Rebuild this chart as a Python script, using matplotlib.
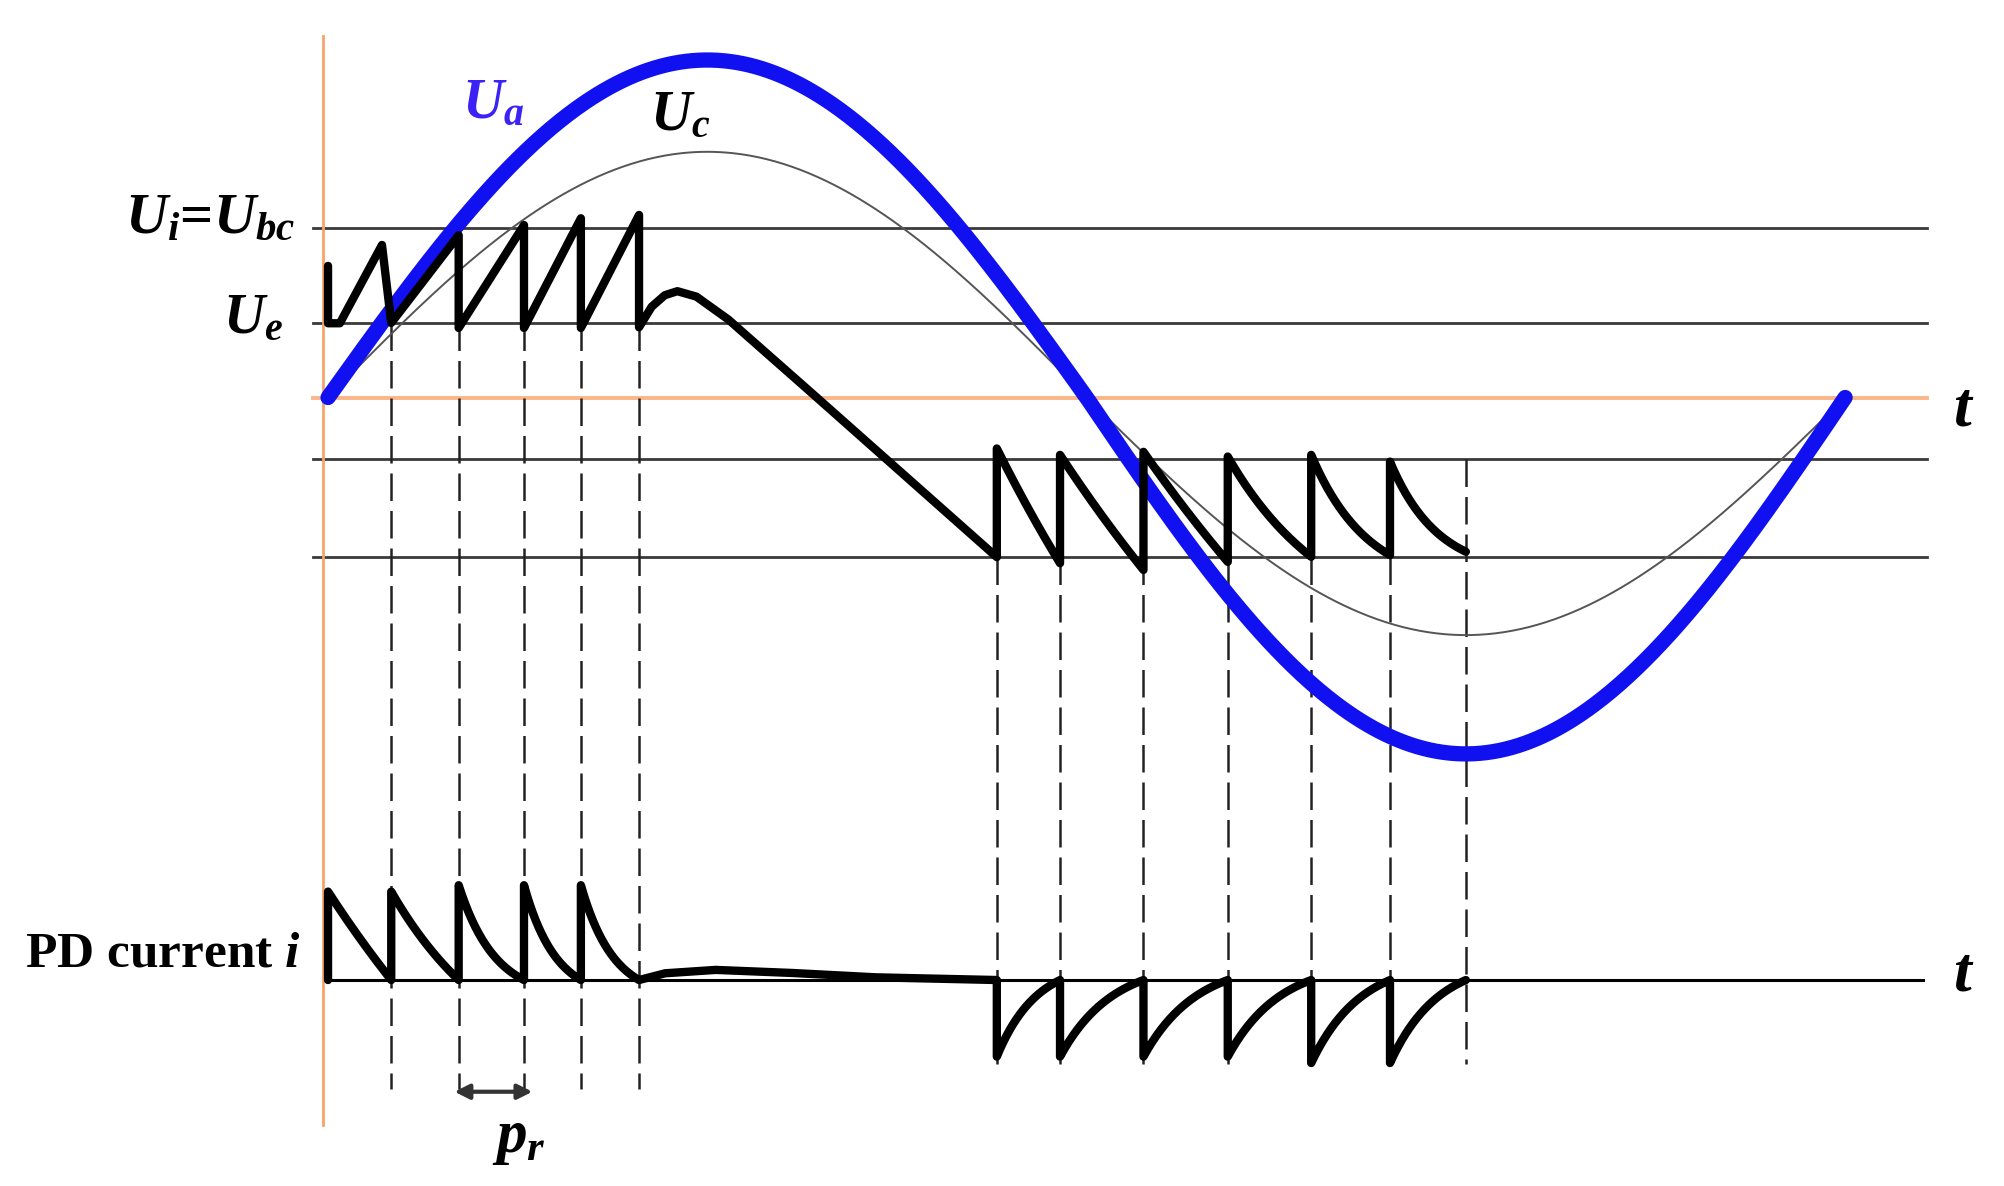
import numpy as np
import matplotlib
matplotlib.use("Agg")
import matplotlib.pyplot as plt

# phase angle in degrees, voltages relative to the positive peak of U_a
ua_amp = [1.0, 1.056]        # U_a, positive / negative half-wave
uc_amp = [0.728, 0.704]      # U_c
level_ui = 0.503             # U_i = U_bc
level_ue = 0.220             # U_e
level_neg = [-0.182, -0.473]

# cavity voltage, positive half and the slow decay after it
ue_pos_t = [0, 0, 2.8, 12.8, 15.0, 31.0, 31.0, 46.5, 46.5, 60.0, 60.0, 73.8, 73.8,
            76.8, 79.9, 82.9, 87.4, 95.0, 113.9, 134.4, 158.7]
ue_pos_v = [0.390, 0.220, 0.220, 0.452, 0.221, 0.481, 0.206, 0.511, 0.206, 0.531, 0.206, 0.541, 0.208,
            0.269, 0.303, 0.315, 0.299, 0.231, 0.023, -0.204, -0.473]

# cavity voltage, negative half (jump up, then ramp down)
neg_times = [158.7, 173.7, 193.5, 213.5, 233.3, 252.0]
neg_end = 270.0
neg_top = [-0.151, -0.170, -0.161, -0.175, -0.170, -0.190]
neg_bottom = [-0.491, -0.511, -0.487, -0.472, -0.467, -0.457]
neg_bend = [0.2, 0.2, 0.2, 0.8, 1.4, 1.6]

# PD current trace
pd_base = -1.726
pos_pulse_t = [0, 15.0, 31.0, 46.5, 60.0]
pos_pulse_end = 73.8
pos_pulse_h = [0.262, 0.262, 0.281, 0.281, 0.281]
pos_pulse_bend = [0.2, 0.6, 1.8, 1.8, 1.8]
hump_t = [73.8, 80, 92, 110, 130, 158.7]
hump_v = [0.0, 0.02, 0.03, 0.021, 0.008, 0.0]
neg_pulse_depth = [0.227, 0.227, 0.227, 0.227, 0.246, 0.246]
neg_pulse_bend = [1.6, 1.6, 1.6, 1.6, 1.6, 1.6]

pos_dash_t = [15.0, 31.0, 46.5, 60.0, 73.8]

plt.rcParams["font.family"] = ["Liberation Serif", "DejaVu Serif"]
plt.rcParams["font.weight"] = "bold"
plt.rcParams["mathtext.fontset"] = "custom"
plt.rcParams["mathtext.rm"] = "Liberation Serif:bold"
plt.rcParams["mathtext.it"] = "Liberation Serif:italic:bold"
plt.rcParams["mathtext.bf"] = "Liberation Serif:bold"


def bend(s, k):
    return s if k == 0 else (1 - np.exp(-k * s)) / (1 - np.exp(-k))


fig = plt.figure(figsize=(20.04, 11.86), dpi=100)
ax = fig.add_axes([0, 0, 1, 1])
ax.set_xlim(-77.84, 397.7)
ax.set_ylim(-2.3363, 1.1778)
ax.axis("off")

x0, x1 = -3.6, 379.5
for lv in [level_ui, level_ue] + level_neg:
    ax.plot([x0, x1], [lv, lv], color="#3a3a3a", lw=2.0, zorder=1)
ax.plot([x0, x1], [0, 0], color="#fbb688", lw=2.8, zorder=1)
ax.plot([-1.25, -1.25], [1.071, -2.156], color="#f7a46b", lw=2.0, zorder=1)
ax.plot([-0.5, 378.5], [pd_base, pd_base], color="black", lw=2.2, zorder=1)

# dashed markers
dash_kw = dict(color="#222222", lw=1.8, dashes=(11, 4), zorder=2)
for t in pos_dash_t:
    ax.plot([t, t], [level_ue, -2.05], **dash_kw)
for t in neg_times:
    ax.plot([t, t], [level_neg[1], -1.975], **dash_kw)
ax.plot([neg_end, neg_end], [level_neg[0], -1.975], **dash_kw)

# sine voltages
t = np.linspace(0, 360, 721)
s = np.sin(np.radians(t))
ua = np.where(s >= 0, ua_amp[0] * s, ua_amp[1] * s)
uc = np.where(s >= 0, uc_amp[0] * s, uc_amp[1] * s)
ax.plot(t, uc, color="#555555", lw=1.4, zorder=3)
ax.plot(t, ua, color="#1010f0", lw=11, solid_capstyle="round", zorder=4)

# cavity voltage
xs, ys = list(ue_pos_t), list(ue_pos_v)
ends = neg_times[1:] + [neg_end]
for k, (ta, tb) in enumerate(zip(neg_times, ends)):
    ss = np.linspace(0, 1, 40)
    xs += [ta] + list(ta + (tb - ta) * ss)
    ys += [neg_top[k]] + list(neg_top[k] + (neg_bottom[k] - neg_top[k]) * bend(ss, neg_bend[k]))
ax.plot(xs, ys, color="black", lw=6, solid_joinstyle="round", solid_capstyle="round", zorder=5)

# PD current
px, py = [], []
p_ends = pos_pulse_t[1:] + [pos_pulse_end]
for k, (ta, tb) in enumerate(zip(pos_pulse_t, p_ends)):
    ss = np.linspace(0, 1, 40)
    px += [ta] + list(ta + (tb - ta) * ss)
    py += [pd_base] + list(pd_base + pos_pulse_h[k] * (1 - bend(ss, pos_pulse_bend[k])))
px += hump_t
py += [pd_base + h for h in hump_v]
for k, (ta, tb) in enumerate(zip(neg_times, ends)):
    ss = np.linspace(0, 1, 40)
    px += [ta] + list(ta + (tb - ta) * ss)
    py += [pd_base] + list(pd_base - neg_pulse_depth[k] * (1 - bend(ss, neg_pulse_bend[k])))
ax.plot(px, py, color="black", lw=6, solid_joinstyle="round", solid_capstyle="round", zorder=5)

# p_r arrow
ax.annotate("", xy=(48.5, -2.057), xytext=(30.0, -2.057),
            arrowprops=dict(arrowstyle="<|-|>", color="#333333", lw=3, mutation_scale=22,
                            shrinkA=0, shrinkB=0), zorder=6)

# labels
ax.text(-7.8, 0.487, r"$U_i$=$U_{bc}$", fontsize=42, ha="right", va="baseline")
ax.text(-10.7, 0.191, r"$U_e$", fontsize=41, ha="right", va="baseline")
ax.text(31.8, 0.828, r"$U_a$", fontsize=41, color="#3b22f5", ha="left", va="baseline")
ax.text(76.4, 0.793, r"$U_c$", fontsize=41, ha="left", va="baseline")
ax.text(-71.9, -1.687, r"PD current $i$", fontsize=37, ha="left", va="baseline")
ax.text(38.9, -2.236, r"$p_r$", fontsize=44, ha="left", va="baseline")
ax.text(385.6, -0.083, r"$t$", fontsize=46, ha="left", va="baseline")
ax.text(385.6, -1.757, r"$t$", fontsize=46, ha="left", va="baseline")

fig.savefig("out.png", dpi=100, facecolor="white")
